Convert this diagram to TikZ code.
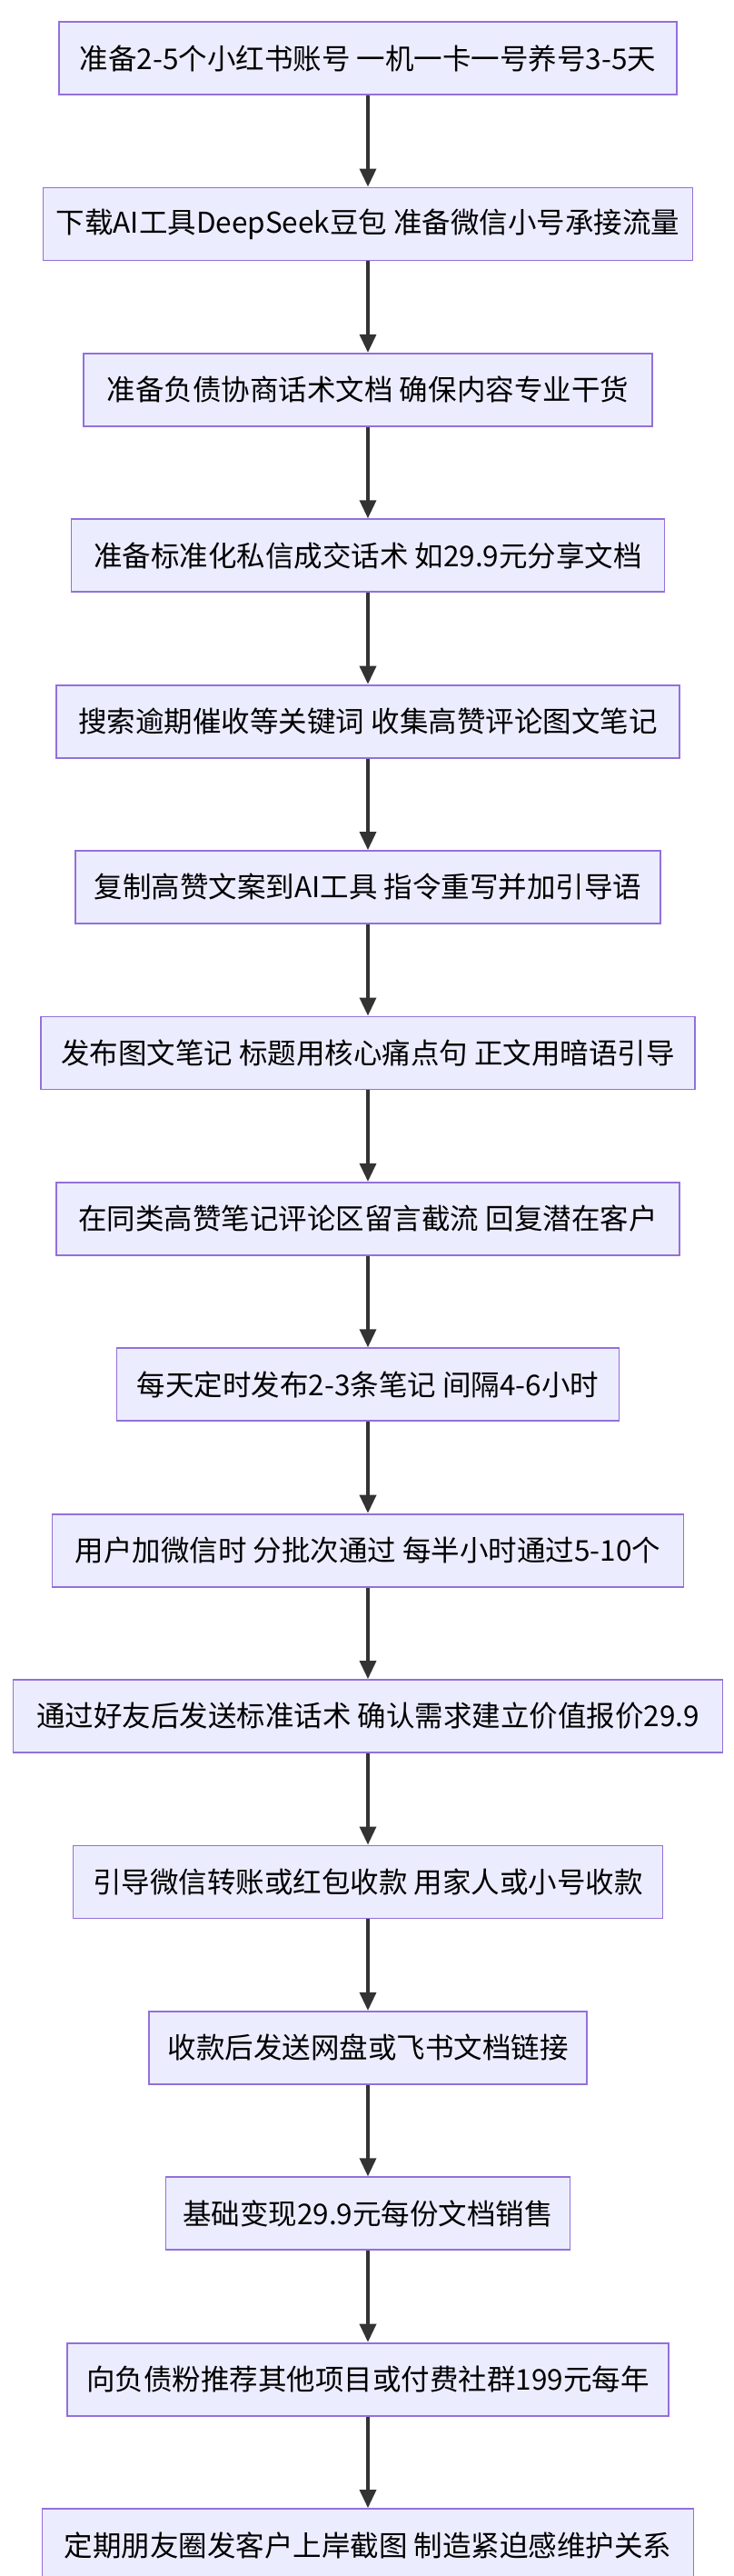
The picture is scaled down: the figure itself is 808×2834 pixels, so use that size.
\documentclass[tikz,border=0pt]{standalone}
\usepackage{fontspec}
\setmainfont{Noto Sans CJK SC}
\usetikzlibrary{positioning,arrows.meta}
\definecolor{boxFill}{HTML}{ECECFF}
\definecolor{boxLine}{HTML}{9370DB}
\definecolor{flowLine}{HTML}{333333}
\tikzset{
	stepbox/.style={draw=boxLine, fill=boxFill, line width=1.8pt, minimum height=80pt,
		inner xsep=4pt, font=\fontsize{31.5}{36}\selectfont},
	flow/.style={-{Triangle[length=20pt,width=18pt]}, draw=flowLine, line width=3.5pt}
}
\begin{document}
\begin{tikzpicture}[x=1pt,y=1pt,node distance=182.4pt,on grid]
	\useasboundingbox (0,0) rectangle (808,-2834);
	\node[stepbox, minimum width=680pt] (s1) at (405,-64) {准备2-5个小红书账号 一机一卡一号养号3-5天};
	\node[stepbox, minimum width=715pt, below=of s1] (s2) {下载AI工具DeepSeek豆包 准备微信小号承接流量};
	\node[stepbox, minimum width=626pt, below=of s2] (s3) {准备负债协商话术文档 确保内容专业干货};
	\node[stepbox, minimum width=653pt, below=of s3] (s4) {准备标准化私信成交话术 如29.9元分享文档};
	\node[stepbox, minimum width=686pt, below=of s4] (s5) {搜索逾期催收等关键词 收集高赞评论图文笔记};
	\node[stepbox, minimum width=644pt, below=of s5] (s6) {复制高赞文案到AI工具 指令重写并加引导语};
	\node[stepbox, minimum width=720pt, below=of s6] (s7) {发布图文笔记 标题用核心痛点句 正文用暗语引导};
	\node[stepbox, minimum width=686pt, below=of s7] (s8) {在同类高赞笔记评论区留言截流 回复潜在客户};
	\node[stepbox, minimum width=553pt, below=of s8] (s9) {每天定时发布2-3条笔记 间隔4-6小时};
	\node[stepbox, minimum width=695pt, below=of s9] (s10) {用户加微信时 分批次通过 每半小时通过5-10个};
	\node[stepbox, minimum width=781pt, below=of s10] (s11) {通过好友后发送标准话术 确认需求建立价值报价29.9};
	\node[stepbox, minimum width=649pt, below=of s11] (s12) {引导微信转账或红包收款 用家人或小号收款};
	\node[stepbox, minimum width=482pt, below=of s12] (s13) {收款后发送网盘或飞书文档链接};
	\node[stepbox, minimum width=445pt, below=of s13] (s14) {基础变现29.9元每份文档销售};
	\node[stepbox, minimum width=662pt, below=of s14] (s15) {向负债粉推荐其他项目或付费社群199元每年};
	\node[stepbox, minimum width=717pt, below=of s15] (s16) {定期朋友圈发客户上岸截图 制造紧迫感维护关系};

	% arrows between the steps
	\foreach \a/\b in {1/2,2/3,3/4,4/5,5/6,6/7,7/8,8/9,9/10,10/11,11/12,12/13,13/14,14/15,15/16}
		\draw[flow] (s\a) -- (s\b);
\end{tikzpicture}
\end{document}
